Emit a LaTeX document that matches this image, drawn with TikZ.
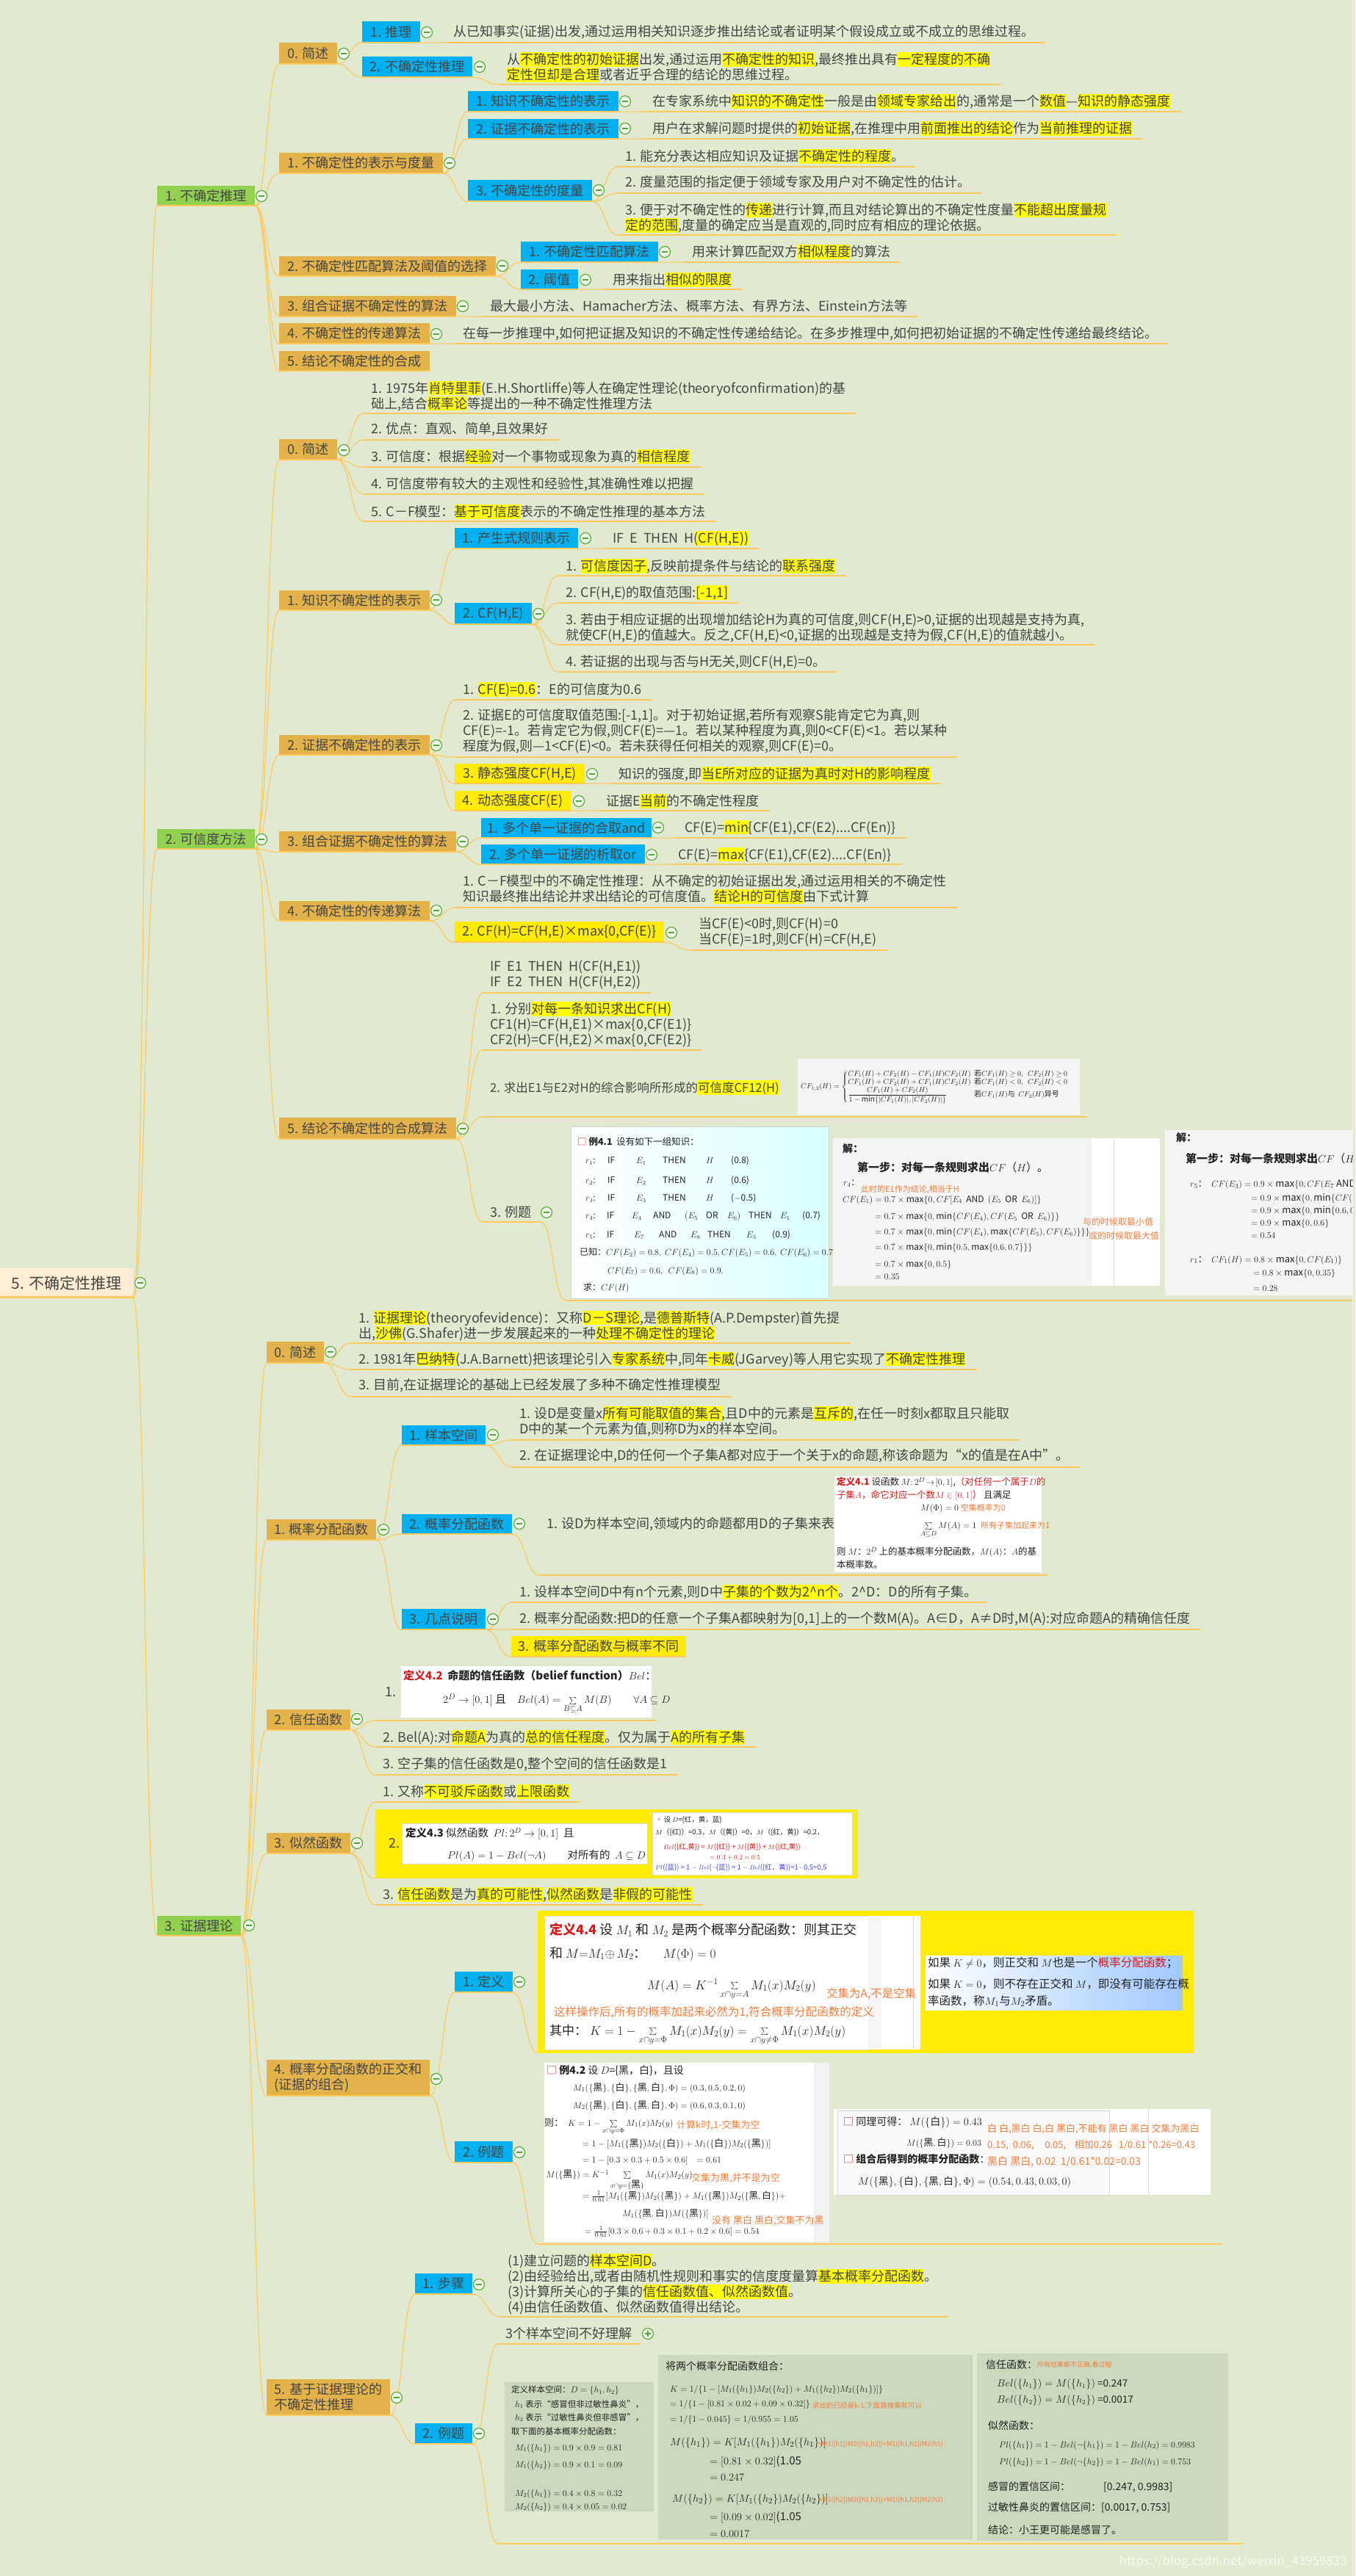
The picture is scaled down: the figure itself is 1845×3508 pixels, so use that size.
\documentclass[tikz,border=0pt]{standalone}
\usepackage{fontspec}
\setmainfont{Noto Sans CJK SC}
\usetikzlibrary{calc}
\pgfdeclarelayer{bgl}
\pgfdeclarelayer{lnk}
\pgfsetlayers{bgl,lnk,main}

\definecolor{bg}{RGB}{225,233,208}
\definecolor{rootf}{RGB}{255,236,212}
\definecolor{gnb}{RGB}{146,208,80}
\definecolor{orb}{RGB}{227,178,74}
\definecolor{blb}{RGB}{0,176,240}
\definecolor{ylb}{RGB}{255,236,0}
\definecolor{hly}{RGB}{255,255,0}
\definecolor{lnc}{RGB}{255,200,90}
\definecolor{txt}{RGB}{70,70,70}
\definecolor{ptx}{RGB}{35,35,35}
\definecolor{tgc}{RGB}{80,170,50}
\definecolor{tgf}{RGB}{240,244,232}
\definecolor{anno}{RGB}{245,125,60}
\definecolor{defred}{RGB}{210,30,30}
\definecolor{plblue}{RGB}{70,70,235}
\definecolor{sage}{RGB}{203,216,189}
\definecolor{pgray}{RGB}{244,244,244}
\definecolor{lblue}{RGB}{160,200,255}

\newcommand\hlt[1]{{\setlength{\fboxsep}{0pt}\colorbox{hly}{\rule[-3pt]{0pt}{19.5pt}#1}}}
\newcommand\mk[2]{\makebox[#1pt][l]{#2}}
\newcommand\hei{\mbox{黑}}
\newcommand\bai{\mbox{白}}
\newcommand\fsz[1]{\fontsize{#1}{#1}\selectfont}

\tikzset{
  cline/.style={draw=lnc, line width=1.1pt},
  uline/.style={draw=lnc, line width=1.6pt},
  topicbox/.style={inner sep=0pt, text=txt, align=left, font=\fontsize{18}{21}\selectfont},
  leafs/.style={anchor=west, inner sep=0pt, align=left, text=txt, font=\fontsize{18}{21}\selectfont},
  pnl/.style={anchor=west, inner sep=0pt, align=left, text=ptx},
  togm/.style={circle, draw=tgc, fill=tgf, line width=1.1pt, minimum size=15pt, inner sep=0pt,
    path picture={\draw[tgc, line width=1.3pt] ([xshift=-4.2pt]path picture bounding box.center) -- ([xshift=4.2pt]path picture bounding box.center);}},
  togp/.style={circle, draw=tgc, fill=tgf, line width=1.1pt, minimum size=15pt, inner sep=0pt,
    path picture={\draw[tgc, line width=1.3pt] ([xshift=-4.2pt]path picture bounding box.center) -- ([xshift=4.2pt]path picture bounding box.center)
      ([yshift=-4.2pt]path picture bounding box.center) -- ([yshift=4.2pt]path picture bounding box.center);}},
}

% box topic: name, x1, y1, x2, y2, fill, text
\newcommand\topic[7]{%
  \node[topicbox, fill=#6, minimum width={(#4-#2)*1pt}, minimum height={(#5-#3)*1pt}] (#1) at ({(#2+#4)/2},{(#3+#5)/2}) {#7};%
  \draw[uline] (#1.south west) -- (#1.south east);}
% collapse buttons
\newcommand\tg[3]{\node[togm] (#1) at (#2,#3) {};}
\newcommand\tgp[3]{\node[togp] (#1) at (#2,#3) {};}
% curved branch from the end of a parent's underline to a child
\newcommand\link[2]{\draw[cline] let \p1=(#1), \p2=(#2) in (\p1) .. controls ({0.5*\x1+0.5*\x2},\y1) and ({0.5*\x1+0.5*\x2},\y2) .. (\p2);}
% underlined text topic: name, x, y centre, underline y, text
\newcommand\leaf[5]{%
  \node[leafs] (#1) at (#2,#3) {#5};%
  \coordinate (#1u) at ({#2-10},#4);%
  \draw[uline] let \p1=(#1.east), \p2=(#1u) in (\p2) -- ({\x1+14pt},\y2);}
% text inside the pasted panels: name, x, y, size, text
\newcommand\ptext[5]{\node[pnl, font=\fsz{#4}] (#1) at (#2,#3) {#5};}

\begin{document}
\begin{tikzpicture}[x=1pt,y=-1pt]
\useasboundingbox (0,0) rectangle (1845,3508);
\begin{pgfonlayer}{bgl}
\fill[bg] (0,0) rectangle (1845,3508);
\draw[white!55!bg, line width=1pt] (1841,0) -- (1841,3508);
\end{pgfonlayer}

% ---------------- root ----------------
\node[fill=rootf, minimum width=181pt, minimum height=41pt, inner sep=0pt, text=txt, font=\fontsize{21}{24}\selectfont] (root) at (90.5,1747.5) {5. 不确定性推理\hspace{12pt}};
\draw[draw=lnc, line width=3pt] ([yshift=1.5pt]root.south west) -- ([yshift=1.5pt]root.south east);

\topic{g1}{214}{253}{347}{280}{gnb}{1. 不确定推理}
\topic{g2}{214}{1129}{347}{1156}{gnb}{2. 可信度方法}
\topic{g3}{214}{2609}{328}{2636}{gnb}{3. 证据理论}

% ================= 1. 不确定推理 =================
\topic{a0}{380}{58}{459}{87}{orb}{0. 简述}
\topic{a1}{380}{208}{603}{236}{orb}{1. 不确定性的表示与度量}
\topic{a2}{380}{349}{675}{376}{orb}{2. 不确定性匹配算法及阈值的选择}
\topic{a3}{380}{403}{621}{431}{orb}{3. 组合证据不确定性的算法}
\topic{a4}{380}{440}{585}{468}{orb}{4. 不确定性的传递算法}
\topic{a5}{380}{478}{585}{505}{orb}{5. 结论不确定性的合成}

\topic{a01}{493}{29}{572}{58}{blb}{1. 推理}
\topic{a02}{493}{77}{643}{105}{blb}{2. 不确定性推理}
\leaf{l01}{617}{44}{58}{从已知事实(证据)出发,通过运用相关知识逐步推出结论或者证明某个假设成立或不成立的思维过程。}
\leaf{l02}{690}{91.5}{115}{从\hlt{不确定性的初始证据}出发,通过运用\hlt{不确定性的知识},最终推出具有\hlt{一定程度的不确}\\\hlt{定性但却是合理}或者近乎合理的结论的思维过程。}

\topic{a11}{637}{124}{842}{152}{blb}{1. 知识不确定性的表示}
\topic{a12}{637}{162}{842}{189}{blb}{2. 证据不确定性的表示}
\topic{a13}{637}{245}{806}{274}{blb}{3. 不确定性的度量}
\leaf{l11}{888}{138}{152}{在专家系统中\hlt{知识的不确定性}一般是由\hlt{领域专家给出}的,通常是一个\hlt{数值}—\hlt{知识的静态强度}}
\leaf{l12}{888}{175}{189}{用户在求解问题时提供的\hlt{初始证据},在推理中用\hlt{前面推出的结论}作为\hlt{当前推理的证据}}
\leaf{l131}{851}{213}{227}{1. 能充分表达相应知识及证据\hlt{不确定性的程度}。}
\leaf{l132}{851}{248}{263}{2. 度量范围的指定便于领域专家及用户对不确定性的估计。}
\leaf{l133}{851}{296.5}{320}{3. 便于对不确定性的\hlt{传递}进行计算,而且对结论算出的不确定性度量\hlt{不能超出度量规}\\\hlt{定的范围},度量的确定应当是直观的,同时应有相应的理论依据。}

\topic{a21}{709}{329}{896}{357}{blb}{1. 不确定性匹配算法}
\topic{a22}{709}{367}{787}{394}{blb}{2. 阈值}
\leaf{l21}{942}{343}{357}{用来计算匹配双方\hlt{相似程度}的算法}
\leaf{l22}{834}{381}{394}{用来指出\hlt{相似的限度}}
\leaf{l3}{667}{417}{431}{最大最小方法、Hamacher方法、概率方法、有界方法、Einstein方法等}
\leaf{l4}{630}{455}{468}{在每一步推理中,如何把证据及知识的不确定性传递给结论。在多步推理中,如何把初始证据的不确定性传递给最终结论。}

% ================= 2. 可信度方法 =================
\topic{b0}{380}{598}{459}{626}{orb}{0. 简述}
\topic{b1}{380}{804}{585}{831}{orb}{1. 知识不确定性的表示}
\topic{b2}{380}{1001}{585}{1028}{orb}{2. 证据不确定性的表示}
\topic{b3}{380}{1132}{621}{1160}{orb}{3. 组合证据不确定性的算法}
\topic{b4}{380}{1227}{585}{1254}{orb}{4. 不确定性的传递算法}
\topic{b5}{380}{1522}{621}{1551}{orb}{5. 结论不确定性的合成算法}

\leaf{m01}{505}{539}{563}{1. 1975年\hlt{肖特里菲}(E.H.Shortliffe)等人在确定性理论(theoryofconfirmation)的基\\础上,结合\hlt{概率论}等提出的一种不确定性推理方法}
\leaf{m02}{505}{585}{599}{2. 优点：直观、简单,且效果好}
\leaf{m03}{505}{622}{636}{3. 可信度：根据\hlt{经验}对一个事物或现象为真的\hlt{相信程度}}
\leaf{m04}{505}{660}{673}{4. 可信度带有较大的主观性和经验性,其准确性难以把握}
\leaf{m05}{505}{697}{710}{5. C－F模型：\hlt{基于可信度}表示的不确定性推理的基本方法}

\topic{b11}{619}{719}{787}{747}{blb}{1. 产生式规则表示}
\topic{b12}{619}{821}{724}{850}{blb}{2. CF(H,E)}
\leaf{m11}{834}{733}{747}{IF\ \ E\ \ THEN\ \ H\hlt{(CF(H,E))}}
\leaf{m121}{770}{771}{784}{1. \hlt{可信度因子},反映前提条件与结论的\hlt{联系强度}}
\leaf{m122}{770}{807}{821}{2. CF(H,E)的取值范围:\hlt{[-1,1]}}
\leaf{m123}{770}{855}{878}{3. 若由于相应证据的出现增加结论H为真的可信度,则CF(H,E)>0,证据的出现越是支持为真,\\就使CF(H,E)的值越大。反之,CF(H,E)<0,证据的出现越是支持为假,CF(H,E)的值就越小。}
\leaf{m124}{770}{902}{915}{4. 若证据的出现与否与H无关,则CF(H,E)=0。}

\leaf{m21}{630}{939}{953}{1. \hlt{CF(E)=0.6}：E的可信度为0.6}
\leaf{m22}{630}{996}{1031}{2. 证据E的可信度取值范围:[-1,1]。对于初始证据,若所有观察S能肯定它为真,则\\CF(E)=-1。若肯定它为假,则CF(E)=—1。若以某种程度为真,则0<CF(E)<1。若以某种\\程度为假,则—1<CF(E)<0。若未获得任何相关的观察,则CF(E)=0。}
\topic{b23}{619}{1040}{796}{1067}{ylb}{3. 静态强度CF(H,E)}
\topic{b24}{619}{1077}{777}{1104}{ylb}{4. 动态强度CF(E)}
\leaf{m23}{842}{1054}{1067}{知识的强度,即\hlt{当E所对应的证据为真时对H的影响程度}}
\leaf{m24}{825}{1091}{1104}{证据E\hlt{当前}的不确定性程度}

\topic{b31}{655}{1114}{887}{1141}{blb}{1. 多个单一证据的合取and}
\topic{b32}{655}{1150}{878}{1177}{blb}{2. 多个单一证据的析取or}
\leaf{m31}{932}{1127}{1141}{CF(E)=\hlt{min}\{CF(E1),CF(E2)....CF(En)\}}
\leaf{m32}{923}{1164}{1177}{CF(E)=\hlt{max}\{CF(E1),CF(E2)....CF(En)\}}

\leaf{m41}{630}{1211}{1236}{1. C－F模型中的不确定性推理：从不确定的初始证据出发,通过运用相关的不确定性\\知识最终推出结论并求出结论的可信度值。\hlt{结论H的可信度}由下式计算}
\topic{b42}{619}{1255}{904}{1283}{ylb}{2. CF(H)=CF(H,E)×max\{0,CF(E)\}}
\leaf{m42}{951}{1269.5}{1294}{当CF(E)<0时,则CF(H)=0\\当CF(E)=1时,则CF(H)=CF(H,E)}

\leaf{m51}{667}{1327.5}{1352}{IF\ \ E1\ \ THEN\ \ H(CF(H,E1))\\IF\ \ E2\ \ THEN\ \ H(CF(H,E2))}
\leaf{m52}{667}{1395}{1430}{1. 分别\hlt{对每一条知识求出CF(H)}\\CF1(H)=CF(H,E1)×max\{0,CF(E1)\}\\CF2(H)=CF(H,E2)×max\{0,CF(E2)\}}
\node[leafs, font=\fontsize{16.5}{20}\selectfont] (m53) at (667,1481) {2. 求出E1与E2对H的综合影响所形成的\hlt{可信度CF12(H)}};
\coordinate (m53u) at (657,1521);
\draw[uline] (m53u) -- (1480,1521);
\path[fill=pgray] (1086,1442) rectangle (1470,1518);
\ptext{pcf}{1090}{1480}{10}{$CF_{1,2}(H)=\left\{\begin{array}{@{}l@{\ \ }l@{}}CF_1(H)+CF_2(H)-CF_1(H)CF_2(H) & \mbox{若}CF_1(H)\geq 0,\ \ CF_2(H)\geq 0\\ CF_1(H)+CF_2(H)+CF_1(H)CF_2(H) & \mbox{若}CF_1(H)<0,\ \ CF_2(H)<0\\ \displaystyle\frac{CF_1(H)+CF_2(H)}{1-\min\{|CF_1(H)|,|CF_2(H)|\}} & \mbox{若}CF_1(H)\mbox{与}\ \ CF_2(H)\mbox{异号}\end{array}\right.$}

\node[leafs] (m54) at (667,1651) {3. 例题};
\coordinate (m54u) at (657,1664);
\coordinate (m54e) at (736,1664);
\draw[uline] (m54u) -- (m54e);
\coordinate (ex41u) at (770,1771);
\draw[uline] (ex41u) -- (1841,1771);

% example 4.1 panel
\shade[left color=white, right color=cyan!15, draw=gray!35] (777,1534) rectangle (1128,1768);
\ptext{e41t}{786}{1555}{12.5}{{\color{defred}□}\ \textbf{例4.1}\ \ 设有如下一组知识：}
\ptext{e41a}{797}{1581}{12}{\mk{30}{$r_1$:}\mk{39}{$\mathit{IF}$}\mk{36}{$E_1$}\mk{59}{$\mathit{THEN}$}\mk{34}{$H$}(0.8)}
\ptext{e41b}{797}{1608}{12}{\mk{30}{$r_2$:}\mk{39}{$\mathit{IF}$}\mk{36}{$E_2$}\mk{59}{$\mathit{THEN}$}\mk{34}{$H$}(0.6)}
\ptext{e41c}{797}{1631.5}{12}{\mk{30}{$r_3$:}\mk{39}{$\mathit{IF}$}\mk{36}{$E_3$}\mk{59}{$\mathit{THEN}$}\mk{34}{$H$}($-$0.5)}
\ptext{e41d}{797}{1656}{12}{\mk{29}{$r_4$:}\mk{34}{$\mathit{IF}$}\mk{29}{$E_4$}\mk{43}{$\mathit{AND}$}\mk{29}{$(E_5$}\mk{29}{$\mathit{OR}$}\mk{29}{$E_6)$}\mk{43}{$\mathit{THEN}$}\mk{30}{$E_1$}(0.7)}
\ptext{e41e}{797}{1682}{12}{\mk{29}{$r_5$:}\mk{37}{$\mathit{IF}$}\mk{34}{$E_7$}\mk{43}{$\mathit{AND}$}\mk{23}{$E_8$}\mk{53}{$\mathit{THEN}$}\mk{35}{$E_3$}(0.9)}
\ptext{e41f}{789}{1706}{12}{已知：$CF(E_2)=0.8,\ CF(E_4)=0.5, CF(E_5)=0.6,\ CF(E_6)=0.7,$}
\ptext{e41g}{827}{1731}{12}{$CF(E_7)=0.6,\ \ CF(E_8)=0.9.$}
\ptext{e41h}{794}{1754}{12}{求：$CF(H)$}

\path[fill=pgray] (1134,1550) rectangle (1486,1751);
\path[fill=white] (1486,1550) rectangle (1579,1751);
\draw[gray!30] (1516,1550) -- (1516,1751);
\ptext{s1a}{1147}{1564.5}{14}{\textbf{解：}}
\ptext{s1b}{1167}{1590}{15}{\textbf{第一步：对每一条规则求出}$CF$（$H$）。}
\ptext{s1c}{1148}{1611.6}{12}{$r_4$：}
\ptext{s1d}{1172}{1620}{11}{\color{anno}此时的E1作为结论,相当于H}
\ptext{s1e}{1147}{1634}{12}{$CF(E_1)=0.7\times\max\{0,CF[E_4\ \ \mathit{AND}\ \ (E_5\ \ \mathit{OR}\ \ E_6)]\}$}
\ptext{s1f}{1191}{1657.5}{12}{$=0.7\times\max\{0,\min\{CF(E_4),CF(E_5\ \ \mathit{OR}\ \ E_6)\}\}$}
\ptext{s1g}{1474}{1663.5}{12}{\color{anno}与的时候取最小值}
\ptext{s1h}{1191}{1678.5}{12}{$=0.7\times\max\{0,\min\{CF(E_4),\max\{CF(E_5),CF(E_6)\}\}\}$}
\ptext{s1i}{1482}{1683}{12}{\color{anno}或的时候取最大值}
\ptext{s1j}{1191}{1699}{12}{$=0.7\times\max\{0,\min\{0.5,\max\{0.6,0.7\}\}\}$}
\ptext{s1k}{1191}{1722}{12}{$=0.7\times\max\{0,0.5\}$}
\ptext{s1l}{1191}{1739}{12}{$=0.35$}

\begin{scope}
\clip (1586,1539) rectangle (1841,1764);
\path[fill=pgray] (1586,1539) rectangle (1841,1764);
\ptext{s2a}{1601}{1549.5}{14}{\textbf{解：}}
\ptext{s2b}{1614}{1578}{15}{\textbf{第一步：对每一条规则求出}$CF$（$H$）。}
\ptext{s2c}{1620}{1613.5}{13}{$r_5$：\ \ $CF(E_3)=0.9\times\max\{0,CF(E_7\ \mathit{AND}\ E_8)\}$}
\ptext{s2d}{1703}{1632}{13}{$=0.9\times\max\{0,\min\{CF(E_7),CF(E_8)\}\}$}
\ptext{s2e}{1703}{1649}{13}{$=0.9\times\max\{0,\min\{0.6,0.9\}\}$}
\ptext{s2f}{1703}{1666}{13}{$=0.9\times\max\{0,0.6\}$}
\ptext{s2g}{1703}{1683}{13}{$=0.54$}
\ptext{s2h}{1620}{1716}{13}{$r_1$：\ \ $CF_1(H)=0.8\times\max\{0,CF(E_1)\}$}
\ptext{s2i}{1706}{1734}{13}{$=0.8\times\max\{0,0.35\}$}
\ptext{s2j}{1706}{1755}{13}{$=0.28$}
\end{scope}

% ================= 3. 证据理论 =================
\topic{c0}{363}{1827}{441}{1856}{orb}{0. 简述}
\topic{c1}{363}{2069}{512}{2097}{orb}{1. 概率分配函数}
\topic{c2}{363}{2328}{477}{2356}{orb}{2. 信任函数}
\topic{c3}{363}{2496}{477}{2524}{orb}{3. 似然函数}
\topic{c4}{363}{2805}{585}{2854}{orb}{4. 概率分配函数的正交和\\(证据的组合)}
\topic{c5}{363}{3240}{531}{3289}{orb}{5. 基于证据理论的\\不确定性推理}

\leaf{n01}{488}{1805}{1829}{1. \hlt{证据理论}(theoryofevidence)：又称\hlt{D－S理论},是\hlt{德普斯特}(A.P.Dempster)首先提\\出,\hlt{沙佛}(G.Shafer)进一步发展起来的一种\hlt{处理不确定性的理论}}
\leaf{n02}{488}{1851}{1865}{2. 1981年\hlt{巴纳特}(J.A.Barnett)把该理论引入\hlt{专家系统}中,同年\hlt{卡威}(JGarvey)等人用它实现了\hlt{不确定性推理}}
\leaf{n03}{488}{1887}{1902}{3. 目前,在证据理论的基础上已经发展了多种不确定性推理模型}

\topic{c11}{547}{1941}{661}{1968}{blb}{1. 样本空间}
\topic{c12}{547}{2062}{697}{2089}{blb}{2. 概率分配函数}
\topic{c13}{547}{2191}{661}{2219}{blb}{3. 几点说明}
\leaf{n111}{707}{1935.5}{1961}{1. 设D是变量x\hlt{所有可能取值的集合},且D中的元素是\hlt{互斥的},在任一时刻x都取且只能取\\D中的某一个元素为值,则称D为x的样本空间。}
\leaf{n112}{707}{1983}{1998}{2. 在证据理论中,D的任何一个子集A都对应于一个关于x的命题,称该命题为“x的值是在A中”。}
\node[leafs] (n121) at (744,2076) {1. 设D为样本空间,领域内的命题都用D的子集来表示};
\coordinate (n121u) at (734,2145);
\draw[uline] (n121u) -- (1427,2145);
\path[fill=white] (1136,2010) rectangle (1418,2141);
\ptext{d41a}{1139}{2018.5}{12.5}{{\color{defred}\textbf{定义4.1}}\ 设函数 $M{:}\,2^D\!\to\![0,1]$,{\color{defred}（对任何一个属于$D$的}}
\ptext{d41b}{1139}{2037}{12.5}{{\color{defred}子集$A$，命它对应一个数$M\in[0,1]$）}\ 且满足}
\ptext{d41c}{1253}{2054}{12.5}{$M(\Phi)=0$\ {\color{anno}\fsz{11}空集概率为0}}
\ptext{d41d}{1253}{2083}{12.5}{$\sum\limits_{A\subseteq D}M(A)=1$\ \ {\color{anno}\fsz{11}所有子集加起来为1}}
\ptext{d41e}{1139}{2113.7}{12.5}{则 $M$：$2^D$ 上的基本概率分配函数，$M(A)$：$A$的基}
\ptext{d41f}{1139}{2131}{12.5}{本概率数。}

\leaf{n131}{707}{2168}{2182}{1. 设样本空间D中有n个元素,则D中\hlt{子集的个数为2\textasciicircum n个}。2\textasciicircum D：D的所有子集。}
\leaf{n132}{707}{2205}{2219}{2. 概率分配函数:把D的任意一个子集A都映射为[0,1]上的一个数M(A)。A∈D，A≠D时,M(A):对应命题A的精确信任度}
\topic{c133}{696}{2228}{934}{2256}{ylb}{3. 概率分配函数与概率不同}

% belief function
\node[leafs] (n21) at (524,2304) {1.};
\coordinate (n21u) at (511,2343);
\draw[uline] (n21u) -- (894,2343);
\path[fill=white] (546,2269) rectangle (887,2339);
\ptext{d42a}{549}{2282}{15}{{\color{defred}\textbf{定义4.2}}\ \ \textbf{命题的信任函数（belief function）}$Bel$：}
\ptext{d42b}{603}{2320}{15}{$2^D\to[0,1]$\ 且\quad $Bel(A)=\sum\limits_{B\subseteq A}M(B)$\qquad $\forall A\subseteq D$}
\leaf{n22}{521}{2366}{2379}{2. Bel(A):对\hlt{命题A}为真的\hlt{总的信任程度}。仅为属于\hlt{A的所有子集}}
\leaf{n23}{521}{2403}{2417}{3. 空子集的信任函数是0,整个空间的信任函数是1}

% plausibility function
\leaf{n31}{521}{2440}{2454}{1. 又称\hlt{不可驳斥函数}或\hlt{上限函数}}
\node[fill=ylb, inner sep=0pt, minimum width=657pt, minimum height=94pt] (c32y) at (839.5,2511) {};
\node[leafs] (n32) at (529,2510) {2.};
\path[fill=white, draw=gray!30] (547,2483) rectangle (881,2538);
\ptext{d43a}{552}{2497}{14.5}{\textbf{定义4.3}\ 似然函数\ \ $Pl{:}\,2^D\to[0,1]$\ \ 且}
\ptext{d43b}{609}{2527}{14.5}{$Pl(A)=1-Bel(\neg A)$\qquad 对所有的\ \ $A\subseteq D$}
\path[fill=white, draw=gray!30] (888,2468) rectangle (1160,2553);
\ptext{x43a}{892}{2478}{9.5}{{\color{defred}•}\ 设 $D$=\{红，黄，蓝\}}
\ptext{x43b}{892}{2495}{9.5}{$M$（\{红\}）=0.3，$M$（\{黄\}）=0，$M$（\{红，黄\}）=0.2，}
\ptext{x43c}{903}{2515}{9.5}{\color{defred}$Bel$(\{红,黄\}) = $M$(\{红\}) + $M$(\{黄\}) + $M$(\{红,黄\})}
\ptext{x43d}{966}{2530}{9.5}{\color{defred}$=0.3+0.2=0.5$}
\ptext{x43e}{892}{2543}{9.5}{\color{plblue}$Pl$(\{蓝\}) = 1 $-$ $Bel$($\neg$\{蓝\}) = 1 $-$ $Bel$(\{红，黄\})=1$-$0.5=0.5}
\leaf{n33}{521}{2580}{2594}{3. \hlt{信任函数}是为\hlt{真的可能性},\hlt{似然函数}是\hlt{非假的可能性}}

% orthogonal sum
\topic{c41}{619}{2685}{698}{2713}{blb}{1. 定义}
\topic{c42}{619}{2916}{698}{2945}{blb}{2. 例题}
\node[fill=ylb, inner sep=0pt, minimum width=893pt, minimum height=194pt] (c41y) at (1178.5,2699) {};
\path[fill=white, draw=gray!30] (741,2609) rectangle (1182,2791);
\path[fill=gray!8] (1182,2609) rectangle (1200,2791);
\path[fill=white] (1200,2609) rectangle (1253,2791);
\draw[gray!30] (1243,2609) -- (1243,2791);
\ptext{d44a}{748}{2628}{18}{{\color{defred}\textbf{定义4.4}}\ 设 $M_1$ 和 $M_2$ 是两个概率分配函数：则其正交}
\ptext{d44b}{748}{2661}{18}{和 $M{=}M_1{\oplus}\,M_2$：\quad\ $M(\Phi)=0$}
\ptext{d44c}{881}{2709}{18}{$M(A)=K^{-1}\sum\limits_{x\cap y=A}M_1(x)M_2(y)$}
\ptext{d44d}{1125}{2715}{15.5}{\color{anno}交集为A,不是空集}
\ptext{d44e}{754}{2740}{15.5}{\color{anno}这样操作后,所有的概率加起来必然为1,符合概率分配函数的定义}
\ptext{d44f}{748}{2771}{17}{其中：\ $K=1-\sum\limits_{x\cap y=\Phi}M_1(x)M_2(y)=\sum\limits_{x\cap y\neq\Phi}M_1(x)M_2(y)$}
\shade[left color=white, right color=lblue] (1260,2663) rectangle (1610,2737);
\ptext{d44g}{1263}{2673}{15.5}{如果 $K\neq 0$，则正交和 $M$也是一个{\color{defred}概率分配函数}；}
\ptext{d44h}{1263}{2702}{15.5}{如果 $K=0$，则不存在正交和 $M$，即没有可能存在概}
\ptext{d44i}{1263}{2725}{15.5}{率函数，称$M_1$与$M_2$矛盾。}

\coordinate (ex42u) at (732,3056);
\draw[uline] (ex42u) -- (1664,3056);
\path[fill=white] (741,2809) rectangle (1108,3053);
\path[fill=gray!10] (1108,2809) rectangle (1129,3053);
\ptext{x42a}{744}{2820}{14}{{\color{defred}□}\ \textbf{例4.2}\ 设 $D$=\{黑，白\}，且设}
\ptext{x42b}{780}{2843}{13}{$M_1(\{\hei\},\{\bai\},\{\hei,\bai\},\Phi)=(0.3,0.5,0.2,0)$}
\ptext{x42c}{780}{2867}{13}{$M_2(\{\hei\},\{\bai\},\{\hei,\bai\},\Phi)=(0.6,0.3,0.1,0)$}
\ptext{x42d}{741}{2896}{13}{则：\ \ $K=1-\sum\limits_{x\cap y=\Phi}M_1(x)M_2(y)$}
\ptext{x42e}{921}{2894}{13}{\color{anno}计算k时,1-交集为空}
\ptext{x42f}{793}{2919}{13}{$=1-[M_1(\{\hei\})M_2(\{\bai\})+M_1(\{\bai\})M_2(\{\hei\})]$}
\ptext{x42g}{793}{2942}{13}{$=1-[0.3\times0.3+0.5\times0.6]\ \ \ =0.61$}
\ptext{x42h}{743}{2969}{13}{$M(\{\hei\})=K^{-1}\sum\limits_{x\cap y=\{\hei\}}M_1(x)M_2(y)$}
\ptext{x42i}{941}{2966}{13}{\color{anno}交集为黑,并不是为空}
\ptext{x42j}{793}{2991}{12.5}{$=\frac{1}{0.61}[M_1(\{\hei\})M_2(\{\hei\})+M_1(\{\hei\})M_2(\{\hei,\bai\})+$}
\ptext{x42k}{847}{3015}{12.5}{$M_1(\{\hei,\bai\})M(\{\hei\})]$}
\ptext{x42l}{969}{3024}{13}{\color{anno}没有 黑白 黑白,交集不为黑}
\ptext{x42m}{796}{3039}{12.5}{$=\frac{1}{0.61}[0.3\times0.6+0.3\times0.1+0.2\times0.6]=0.54$}

\path[fill=white] (1135,2872) rectangle (1648,2989);
\path[fill=gray!5, draw=gray!30] (1140,2874) rectangle (1510,2989);
\draw[gray!30] (1563,2872) -- (1563,2989);
\ptext{x42n}{1148}{2890}{14}{{\color{defred}□}\ 同理可得：\ $M(\{\bai\})=0.43$}
\ptext{x42o}{1344}{2899}{13}{\color{anno}白 白,黑白 白,白 黑白,不能有 黑白 黑白 交集为黑白}
\ptext{x42p}{1234}{2918}{13}{$M(\{\hei,\bai\})=0.03$}
\ptext{x42q}{1344}{2921}{13}{\color{anno}0.15,\ \ 0.06,\ \ \ \ \ 0.05,\ \ \ \ 相加0.26\ \ \ 1/0.61 *0.26=0.43}
\ptext{x42r}{1148}{2940}{14}{{\color{defred}□}\ \textbf{组合后得到的概率分配函数}：}
\ptext{x42s}{1344}{2944}{14}{\color{anno}黑白 黑白, 0.02\ \ 1/0.61*0.02=0.03}
\ptext{x42t}{1168}{2972}{13.5}{$M(\{\hei\},\{\bai\},\{\hei,\bai\},\Phi)=(0.54,0.43,0.03,0)$}

% reasoning based on evidence theory
\topic{c51}{565}{3096}{643}{3124}{blb}{1. 步骤}
\topic{c52}{565}{3300}{643}{3328}{blb}{2. 例题}
\leaf{n51}{691}{3110.5}{3155}{(1)建立问题的\hlt{样本空间D}。\\(2)由经验给出,或者由随机性规则和事实的信度度量算\hlt{基本概率分配函数}。\\(3)计算所关心的子集的\hlt{信任函数值、似然函数值}。\\(4)由信任函数值、似然函数值得出结论。}
\node[leafs] (n521) at (688,3178) {3个样本空间不好理解};
\coordinate (n521u) at (678,3192);
\draw[uline] (n521u) -- (872,3192);
\coordinate (ex52u) at (678,3464);
\draw[uline] (ex52u) -- (1691,3464);

\path[fill=sage] (687,3244) rectangle (890,3420);
\ptext{h1a}{696}{3255}{11.5}{定义样本空间：$D=\{h_1,h_2\}$}
\ptext{h1b}{701}{3274}{11.5}{$h_1$ 表示“感冒但非过敏性鼻炎”，}
\ptext{h1c}{701}{3292}{11.5}{$h_2$ 表示“过敏性鼻炎但非感冒”，}
\ptext{h1d}{696}{3311}{11.5}{取下面的基本概率分配函数：}
\ptext{h1e}{701}{3334}{11.5}{$M_1(\{h_1\})=0.9\times0.9=0.81$}
\ptext{h1f}{701}{3357}{11.5}{$M_1(\{h_2\})=0.9\times0.1=0.09$}
\ptext{h1g}{701}{3396}{11.5}{$M_2(\{h_1\})=0.4\times0.8=0.32$}
\ptext{h1h}{701}{3414}{11.5}{$M_2(\{h_2\})=0.4\times0.05=0.02$}

\path[fill=sage] (896,3207) rectangle (1324,3458);
\ptext{h2a}{906}{3222}{14}{将两个概率分配函数组合：}
\ptext{h2b}{912}{3254}{13}{$K=1/\{1-[M_1(\{h_1\})M_2(\{h_2\})+M_1(\{h_2\})M_2(\{h_1\})]\}$}
\ptext{h2c}{912}{3274}{13}{$=1/\{1-[0.81\times0.02+0.09\times0.32]\}$}
\ptext{h2d}{1106}{3276}{9.5}{\color{anno}求出的已经是k-1,下面直接乘就可以}
\ptext{h2e}{912}{3295}{13}{$=1/\{1-0.045\}=1/0.955=1.05$}
\ptext{h2f}{912}{3327}{15}{$M(\{h_1\})=K[M_1(\{h_1\})M_2(\{h_1\})]$}
\ptext{h2g}{1114}{3328.5}{9}{\color{anno}+M1(\{h1\})M2(\{h1,h2\})+M1(\{h1,h2\})M2(h1)}
\ptext{h2h}{966}{3352}{15}{$=[0.81\times0.32]$(1.05}
\ptext{h2i}{966}{3374}{15}{$=0.247$}
\ptext{h2j}{915}{3404}{15}{$M(\{h_2\})=K[M_1(\{h_2\})M_2(\{h_2\})]$}
\ptext{h2k}{1114}{3405}{9}{\color{anno}+M1(\{h2\})M2(\{h1,h2\})+M1(\{h1,h2\})M2(h2)}
\ptext{h2l}{966}{3428}{15}{$=[0.09\times0.02]$(1.05}
\ptext{h2m}{966}{3451}{15}{$=0.0017$}

\path[fill=sage] (1330,3205) rectangle (1672,3460);
\ptext{h3a}{1342}{3220}{14}{信任函数：}
\ptext{h3b}{1412}{3221}{9}{\color{anno}所有结果都不正确,看过程}
\ptext{h3c}{1357}{3247}{13.5}{$Bel(\{h_1\})=M(\{h_1\})$ =0.247}
\ptext{h3d}{1357}{3269}{13.5}{$Bel(\{h_2\})=M(\{h_2\})$ =0.0017}
\ptext{h3e}{1345}{3303}{14}{似然函数：}
\ptext{h3f}{1360}{3330}{13}{$Pl(\{h_1\})=1-Bel(\neg\{h_1\})=1-Bel(h_2)=0.9983$}
\ptext{h3g}{1360}{3353}{13}{$Pl(\{h_2\})=1-Bel(\neg\{h_2\})=1-Bel(h_1)=0.753$}
\ptext{h3h}{1345}{3387}{14}{\mk{157}{感冒的置信区间：}[0.247,\ 0.9983]}
\ptext{h3i}{1345}{3415}{14}{过敏性鼻炎的置信区间：[0.0017,\ 0.753]}
\ptext{h3j}{1345}{3445}{14}{结论：小王更可能是感冒了。}

\node[font=\fontsize{17}{19}\selectfont, text=white!75!bg, anchor=east, inner sep=0pt] (wm) at (1834,3489) {https://blog.csdn.net/weixin\_43959833};

% ---------------- collapse buttons ----------------
\tg{rootc}{191}{1747}
\tg{g1c}{356}{267} \tg{g2c}{356}{1143} \tg{g3c}{339}{2622}
\tg{a0c}{468}{73} \tg{a1c}{612}{222} \tg{a2c}{684}{362} \tg{a3c}{630}{417} \tg{a4c}{594}{455}
\tg{a01c}{581}{44} \tg{a02c}{653}{91}
\tg{a11c}{851}{138} \tg{a12c}{851}{175} \tg{a13c}{815}{259}
\tg{a21c}{905}{343} \tg{a22c}{797}{381}
\tg{b0c}{468}{613} \tg{b1c}{594}{817} \tg{b2c}{594}{1015} \tg{b3c}{630}{1146} \tg{b4c}{594}{1240} \tg{b5c}{630}{1537}
\tg{b11c}{797}{733} \tg{b12c}{733}{836}
\tg{b23c}{806}{1054} \tg{b24c}{788}{1091}
\tg{b31c}{896}{1127} \tg{b32c}{887}{1164}
\tg{b42c}{914}{1270}
\tg{m54c}{744}{1651}
\tg{c0c}{450}{1841} \tg{c1c}{522}{2083} \tg{c2c}{486}{2341} \tg{c3c}{486}{2510} \tg{c4c}{594}{2831} \tg{c5c}{540}{3265}
\tg{c11c}{671}{1954} \tg{c12c}{707}{2075} \tg{c13c}{671}{2205}
\tg{c41c}{707}{2699} \tg{c42c}{707}{2931}
\tg{c51c}{652}{3111} \tg{c52c}{652}{3314}
\tgp{n521c}{882}{3178}

% ---------------- branches ----------------
\begin{pgfonlayer}{lnk}
\link{root.south east}{g1.south west} \link{root.south east}{g2.south west} \link{root.south east}{g3.south west}
\link{g1.south east}{a0.south west} \link{g1.south east}{a1.south west} \link{g1.south east}{a2.south west}
\link{g1.south east}{a3.south west} \link{g1.south east}{a4.south west} \link{g1.south east}{a5.south west}
\link{a0.south east}{a01.south west} \link{a0.south east}{a02.south west}
\link{a01.south east}{l01u} \link{a02.south east}{l02u}
\link{a1.south east}{a11.south west} \link{a1.south east}{a12.south west} \link{a1.south east}{a13.south west}
\link{a11.south east}{l11u} \link{a12.south east}{l12u}
\link{a13.south east}{l131u} \link{a13.south east}{l132u} \link{a13.south east}{l133u}
\link{a2.south east}{a21.south west} \link{a2.south east}{a22.south west}
\link{a21.south east}{l21u} \link{a22.south east}{l22u}
\link{a3.south east}{l3u} \link{a4.south east}{l4u}

\link{g2.south east}{b0.south west} \link{g2.south east}{b1.south west} \link{g2.south east}{b2.south west}
\link{g2.south east}{b3.south west} \link{g2.south east}{b4.south west} \link{g2.south east}{b5.south west}
\link{b0.south east}{m01u} \link{b0.south east}{m02u} \link{b0.south east}{m03u} \link{b0.south east}{m04u} \link{b0.south east}{m05u}
\link{b1.south east}{b11.south west} \link{b1.south east}{b12.south west}
\link{b11.south east}{m11u}
\link{b12.south east}{m121u} \link{b12.south east}{m122u} \link{b12.south east}{m123u} \link{b12.south east}{m124u}
\link{b2.south east}{m21u} \link{b2.south east}{m22u} \link{b2.south east}{b23.south west} \link{b2.south east}{b24.south west}
\link{b23.south east}{m23u} \link{b24.south east}{m24u}
\link{b3.south east}{b31.south west} \link{b3.south east}{b32.south west}
\link{b31.south east}{m31u} \link{b32.south east}{m32u}
\link{b4.south east}{m41u} \link{b4.south east}{b42.south west}
\link{b42.south east}{m42u}
\link{b5.south east}{m51u} \link{b5.south east}{m52u} \link{b5.south east}{m53u} \link{b5.south east}{m54u}
\link{m54e}{ex41u}

\link{g3.south east}{c0.south west} \link{g3.south east}{c1.south west} \link{g3.south east}{c2.south west}
\link{g3.south east}{c3.south west} \link{g3.south east}{c4.south west} \link{g3.south east}{c5.south west}
\link{c0.south east}{n01u} \link{c0.south east}{n02u} \link{c0.south east}{n03u}
\link{c1.south east}{c11.south west} \link{c1.south east}{c12.south west} \link{c1.south east}{c13.south west}
\link{c11.south east}{n111u} \link{c11.south east}{n112u}
\link{c12.south east}{n121u}
\link{c13.south east}{n131u} \link{c13.south east}{n132u} \link{c13.south east}{c133.south west}
\link{c2.south east}{n21u} \link{c2.south east}{n22u} \link{c2.south east}{n23u}
\link{c3.south east}{n31u} \link{c3.south east}{c32y.south west} \link{c3.south east}{n33u}
\link{c4.south east}{c41.south west} \link{c4.south east}{c42.south west}
\link{c41.south east}{c41y.south west} \link{c42.south east}{ex42u}
\link{c5.south east}{c51.south west} \link{c5.south east}{c52.south west}
\link{c51.south east}{n51u}
\link{c52.south east}{n521u} \link{c52.south east}{ex52u}
\end{pgfonlayer}
\end{tikzpicture}
\end{document}
